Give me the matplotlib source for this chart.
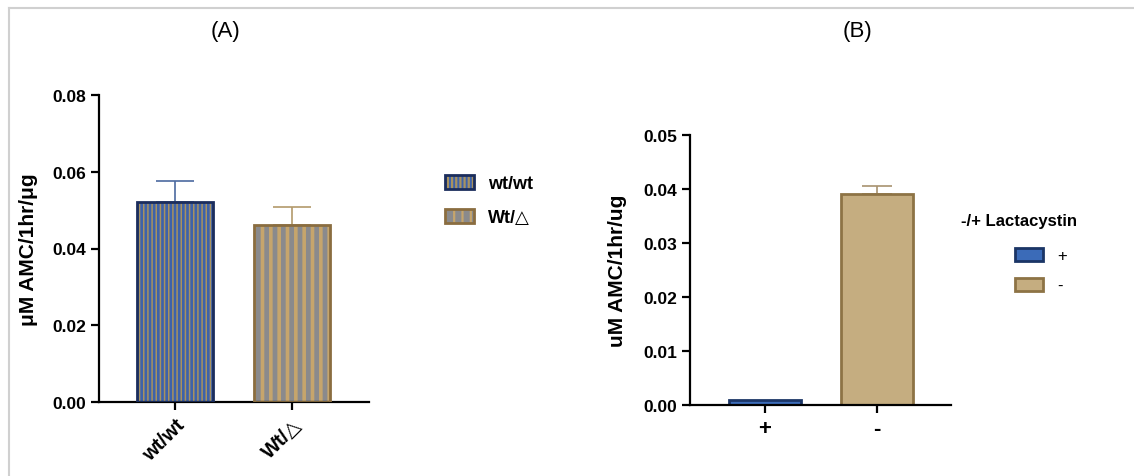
import matplotlib
matplotlib.use("Agg")
import matplotlib.pyplot as plt
from matplotlib.patches import Patch
from matplotlib.lines import Line2D
import numpy as np

plt.rcParams['font.family'] = ['Liberation Sans', 'DejaVu Sans']
plt.rcParams['hatch.linewidth'] = 1.6

# ---- data ----
a_categories = ["wt/wt", "Wt/\u25B3"]
a_values = [0.052, 0.0462]
a_err_up = [0.0055, 0.0045]
a_fill = ["#3d62ab", "#8a8a8c"]
a_stripe = ["#a8925f", "#c6a56c"]
a_hatch = ["||||", "||"]
a_hatch_lw = [1.1, 2.6]
a_edge = ["#1b2d5c", "#8a6d40"]
a_errc = ["#4b6aa0", "#b39a6b"]
a_yticks = [0.00, 0.02, 0.04, 0.06, 0.08]

b_categories = ["+", "-"]
b_values = [0.0009, 0.0391]
b_err_up = [0.0, 0.0014]
b_fill = ["#3b6bb8", "#c5ad80"]
b_edge = ["#1b3566", "#8d7345"]
b_errc = ["#1b3566", "#a89270"]
b_yticks = [0.00, 0.01, 0.02, 0.03, 0.04, 0.05]
b_legend_title = "-/+ Lactacystin"

W, H = 1134, 477
fig = plt.figure(figsize=(W / 100, H / 100), dpi=100)

def px_axes(l, r, t, b):
    return fig.add_axes([l / W, 1 - b / H, (r - l) / W, (b - t) / H])

def style_axes(ax):
    for s in ["top", "right"]:
        ax.spines[s].set_visible(False)
    for s in ["left", "bottom"]:
        ax.spines[s].set_linewidth(1.6)
    ax.tick_params(axis="both", direction="out", length=6, width=1.6)
    for lab in ax.get_yticklabels():
        lab.set_fontweight("bold")
        lab.set_fontsize(12.5)

# ---- Panel A ----
axA = px_axes(99, 369, 96, 403)
xa = np.arange(len(a_categories))
bw = 0.65
for i in range(len(xa)):
    axA.errorbar(xa[i], a_values[i], yerr=[[0], [a_err_up[i]]], fmt="none",
                 ecolor=a_errc[i], elinewidth=1.2, capsize=13.5, capthick=1.2, zorder=1)
    with plt.rc_context({"hatch.linewidth": a_hatch_lw[i]}):
        bars = axA.bar(xa[i], a_values[i], width=bw, color=a_fill[i], edgecolor=a_stripe[i],
                       hatch=a_hatch[i], linewidth=0, zorder=2)
        for b in bars:
            if hasattr(b, "set_hatch_linewidth"):
                b.set_hatch_linewidth(a_hatch_lw[i])
axA.bar(xa, a_values, width=bw, color="none", edgecolor=a_edge, linewidth=2.0, zorder=3)
axA.set_xlim(-0.65, 1.66)
axA.set_ylim(0, 0.08)
axA.set_yticks(a_yticks)
axA.set_yticklabels([f"{v:.2f}" for v in a_yticks])
axA.set_xticks(xa)
axA.set_xticklabels(a_categories, rotation=45, ha="right", rotation_mode="anchor",
                    fontsize=14.5, fontweight="bold")
style_axes(axA)
axA.set_ylabel("\u03bcM AMC/1hr/\u03bcg", fontsize=15, fontweight="bold")
axA.yaxis.set_label_coords(-0.226, 0.5)

handlesA = []
for i in range(len(a_categories)):
    with plt.rc_context({"hatch.linewidth": a_hatch_lw[i]}):
        p1 = Patch(facecolor=a_fill[i], edgecolor=a_stripe[i], hatch=a_hatch[i], linewidth=0)
        if hasattr(p1, "set_hatch_linewidth"):
            p1.set_hatch_linewidth(a_hatch_lw[i])
    p2 = Patch(facecolor="none", edgecolor=a_edge[i], linewidth=2.0)
    handlesA.append((p1, p2))
legA = fig.legend(handlesA, a_categories, loc="upper left",
                  bbox_to_anchor=(429 / W, 1 - 160 / H), frameon=False,
                  handlelength=1.6, handleheight=0.75, labelspacing=0.95,
                  handletextpad=0.75, prop={"size": 13, "weight": "bold"})

# ---- Panel B ----
axB = px_axes(690, 951, 136, 406)
xb = np.arange(len(b_categories))
for i in range(len(xb)):
    if b_err_up[i] > 0:
        axB.errorbar(xb[i], b_values[i], yerr=[[0], [b_err_up[i]]], fmt="none",
                     ecolor=b_errc[i], elinewidth=1.2, capsize=10.5, capthick=1.2, zorder=1)
axB.bar(xb, b_values, width=bw, color=b_fill, edgecolor=b_edge, linewidth=2.0, zorder=2)
axB.set_xlim(-0.67, 1.66)
axB.set_ylim(0, 0.05)
axB.set_yticks(b_yticks)
axB.set_yticklabels([f"{v:.2f}" for v in b_yticks])
axB.set_xticks(xb)
axB.set_xticklabels(b_categories, fontsize=16, fontweight="bold")
style_axes(axB)
axB.set_ylabel("uM AMC/1hr/ug", fontsize=15, fontweight="bold")
axB.yaxis.set_label_coords(-0.241, 0.5)

handlesB = [Patch(facecolor=b_fill[i], edgecolor=b_edge[i], linewidth=2.0)
            for i in range(len(b_categories))]
legB = fig.legend(handlesB, b_categories, loc="upper left",
                  bbox_to_anchor=(1000 / W, 1 - 234 / H), frameon=False,
                  handlelength=1.65, handleheight=0.8, labelspacing=0.9,
                  handletextpad=0.9, prop={"size": 12})
fig.text(1019 / W, 1 - 222 / H, b_legend_title, ha="center", va="center",
         fontsize=12, fontweight="bold")

# ---- panel titles ----
fig.text(226 / W, 1 - 32 / H, "(A)", ha="center", va="center", fontsize=16)
fig.text(858 / W, 1 - 32 / H, "(B)", ha="center", va="center", fontsize=16)

# ---- frame lines ----
fig.add_artist(Line2D([9 / W, 1], [1 - 9 / H, 1 - 9 / H], transform=fig.transFigure,
                      color="#d0d0d0", linewidth=1.5))
fig.add_artist(Line2D([9 / W, 9 / W], [0, 1 - 9 / H], transform=fig.transFigure,
                      color="#d0d0d0", linewidth=1.5))

fig.savefig("out.png", dpi=100)
